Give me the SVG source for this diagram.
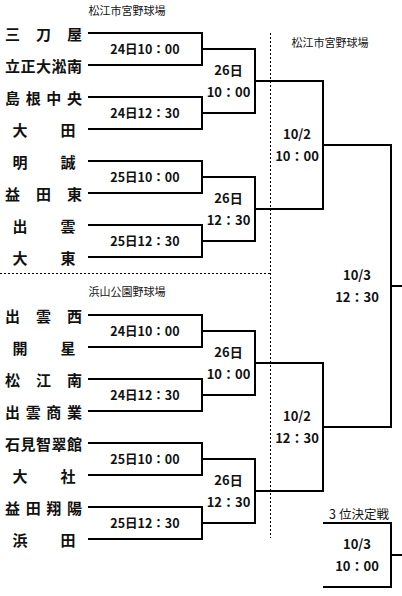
<svg xmlns="http://www.w3.org/2000/svg" width="402" height="596" viewBox="0 0 402 596">
<style>
text{font-family:"Noto Sans CJK JP","Noto Sans CJK SC",sans-serif;fill:#111;dominant-baseline:central}
.team{font-size:15px;font-weight:700;text-anchor:middle}
.r1{font-size:12.5px;font-weight:700;text-anchor:middle}
.rl{font-size:13px;font-weight:700;text-anchor:middle}
.venue{font-size:11px;text-anchor:middle}
.ln{fill:none;stroke:#000;stroke-width:2}
.dot{fill:none;stroke:#000;stroke-width:1;stroke-dasharray:2 2}
</style>
<rect width="402" height="596" fill="#fff"/>
<g id="connectors">
<path class="ln" d="M88 33H202V65H88M88 97H202V129H88M88 161H202V193H88M88 225H202V257H88"/>
<path class="ln" d="M202 49H255V113H202M202 177H255V241H202"/>
<path class="ln" d="M255 81H323V209H255"/>
<path class="ln" d="M323 145H391V427H323M391 286H402"/>
<path class="ln" d="M88 315H202V347H88M88 379H202V411H88M88 443H202V475H88M88 507H202V539H88"/>
<path class="ln" d="M202 331H255V395H202M202 459H255V523H202"/>
<path class="ln" d="M255 363H323V491H255"/>
<path class="ln" d="M323 523H391V587H323M391 555H402"/>
<path class="dot" d="M270.5 33V538M0 273.5H270"/>
</g>
<g id="venues">
<text class="venue" x="127" y="9.5">松江市宮野球場</text>
<text class="venue" x="330" y="41.5">松江市宮野球場</text>
<text class="venue" x="127" y="291">浜山公園野球場</text>
<text class="venue" x="359" y="513" style="font-size:12.5px">3<tspan dx="3">位決定戦</tspan></text>
</g>
<g id="team-mitoya"><text class="team" x="12.5 43.5 74.5" y="33">三刀屋</text></g>
<g id="team-risshodaishonan"><text class="team" x="12.5 28 43.5 59 74.5" y="65">立正大淞南</text></g>
<g id="team-shimanechuo"><text class="team" x="12.5 33.2 53.8 74.5" y="97">島根中央</text></g>
<g id="team-ota"><text class="team" x="20 68" y="129">大田</text></g>
<g id="team-meisei"><text class="team" x="20 68" y="161">明誠</text></g>
<g id="team-masudahigashi"><text class="team" x="12.5 43.5 74.5" y="193">益田東</text></g>
<g id="team-izumo"><text class="team" x="20 68" y="225">出雲</text></g>
<g id="team-daito"><text class="team" x="20 68" y="257">大東</text></g>
<g id="team-izumonishi"><text class="team" x="12.5 43.5 74.5" y="315">出雲西</text></g>
<g id="team-kaisei"><text class="team" x="20 68" y="347">開星</text></g>
<g id="team-matsueminami"><text class="team" x="12.5 43.5 74.5" y="379">松江南</text></g>
<g id="team-izumoshogyo"><text class="team" x="12.5 33.2 53.8 74.5" y="411">出雲商業</text></g>
<g id="team-iwamichisuikan"><text class="team" x="12.5 28 43.5 59 74.5" y="443">石見智翠館</text></g>
<g id="team-taisha"><text class="team" x="20 68" y="475">大社</text></g>
<g id="team-masudashoyo"><text class="team" x="12.5 33.2 53.8 74.5" y="507">益田翔陽</text></g>
<g id="team-hamada"><text class="team" x="20 68" y="539">浜田</text></g>
<g id="m1"><text class="r1" x="145" y="48.5">24日10：00</text></g>
<g id="m2"><text class="r1" x="145" y="112.5">24日12：30</text></g>
<g id="m3"><text class="r1" x="145" y="176">25日10：00</text></g>
<g id="m4"><text class="r1" x="145" y="240.5">25日12：30</text></g>
<g id="m5"><text class="r1" x="145" y="330">24日10：00</text></g>
<g id="m6"><text class="r1" x="145" y="394.5">24日12：30</text></g>
<g id="m7"><text class="r1" x="145" y="458.5">25日10：00</text></g>
<g id="m8"><text class="r1" x="145" y="522.5">25日12：30</text></g>
<g id="q1"><text class="rl" x="228.5" y="69.5">26日</text><text class="rl" x="228.5" y="91">10：00</text></g>
<g id="q2"><text class="rl" x="228.5" y="197.5">26日</text><text class="rl" x="228.5" y="219">12：30</text></g>
<g id="q3"><text class="rl" x="228.5" y="351.5">26日</text><text class="rl" x="228.5" y="373">10：00</text></g>
<g id="q4"><text class="rl" x="228.5" y="479.5">26日</text><text class="rl" x="228.5" y="501">12：30</text></g>
<g id="s1"><text class="rl" x="297" y="133.5">10/2</text><text class="rl" x="297" y="155.5">10：00</text></g>
<g id="s2"><text class="rl" x="297" y="415">10/2</text><text class="rl" x="297" y="437">12：30</text></g>
<g id="final"><text class="rl" x="357" y="274">10/3</text><text class="rl" x="357" y="296">12：30</text></g>
<g id="third"><text class="rl" x="357" y="543.5">10/3</text><text class="rl" x="357" y="565.5">10：00</text></g>
</svg>
